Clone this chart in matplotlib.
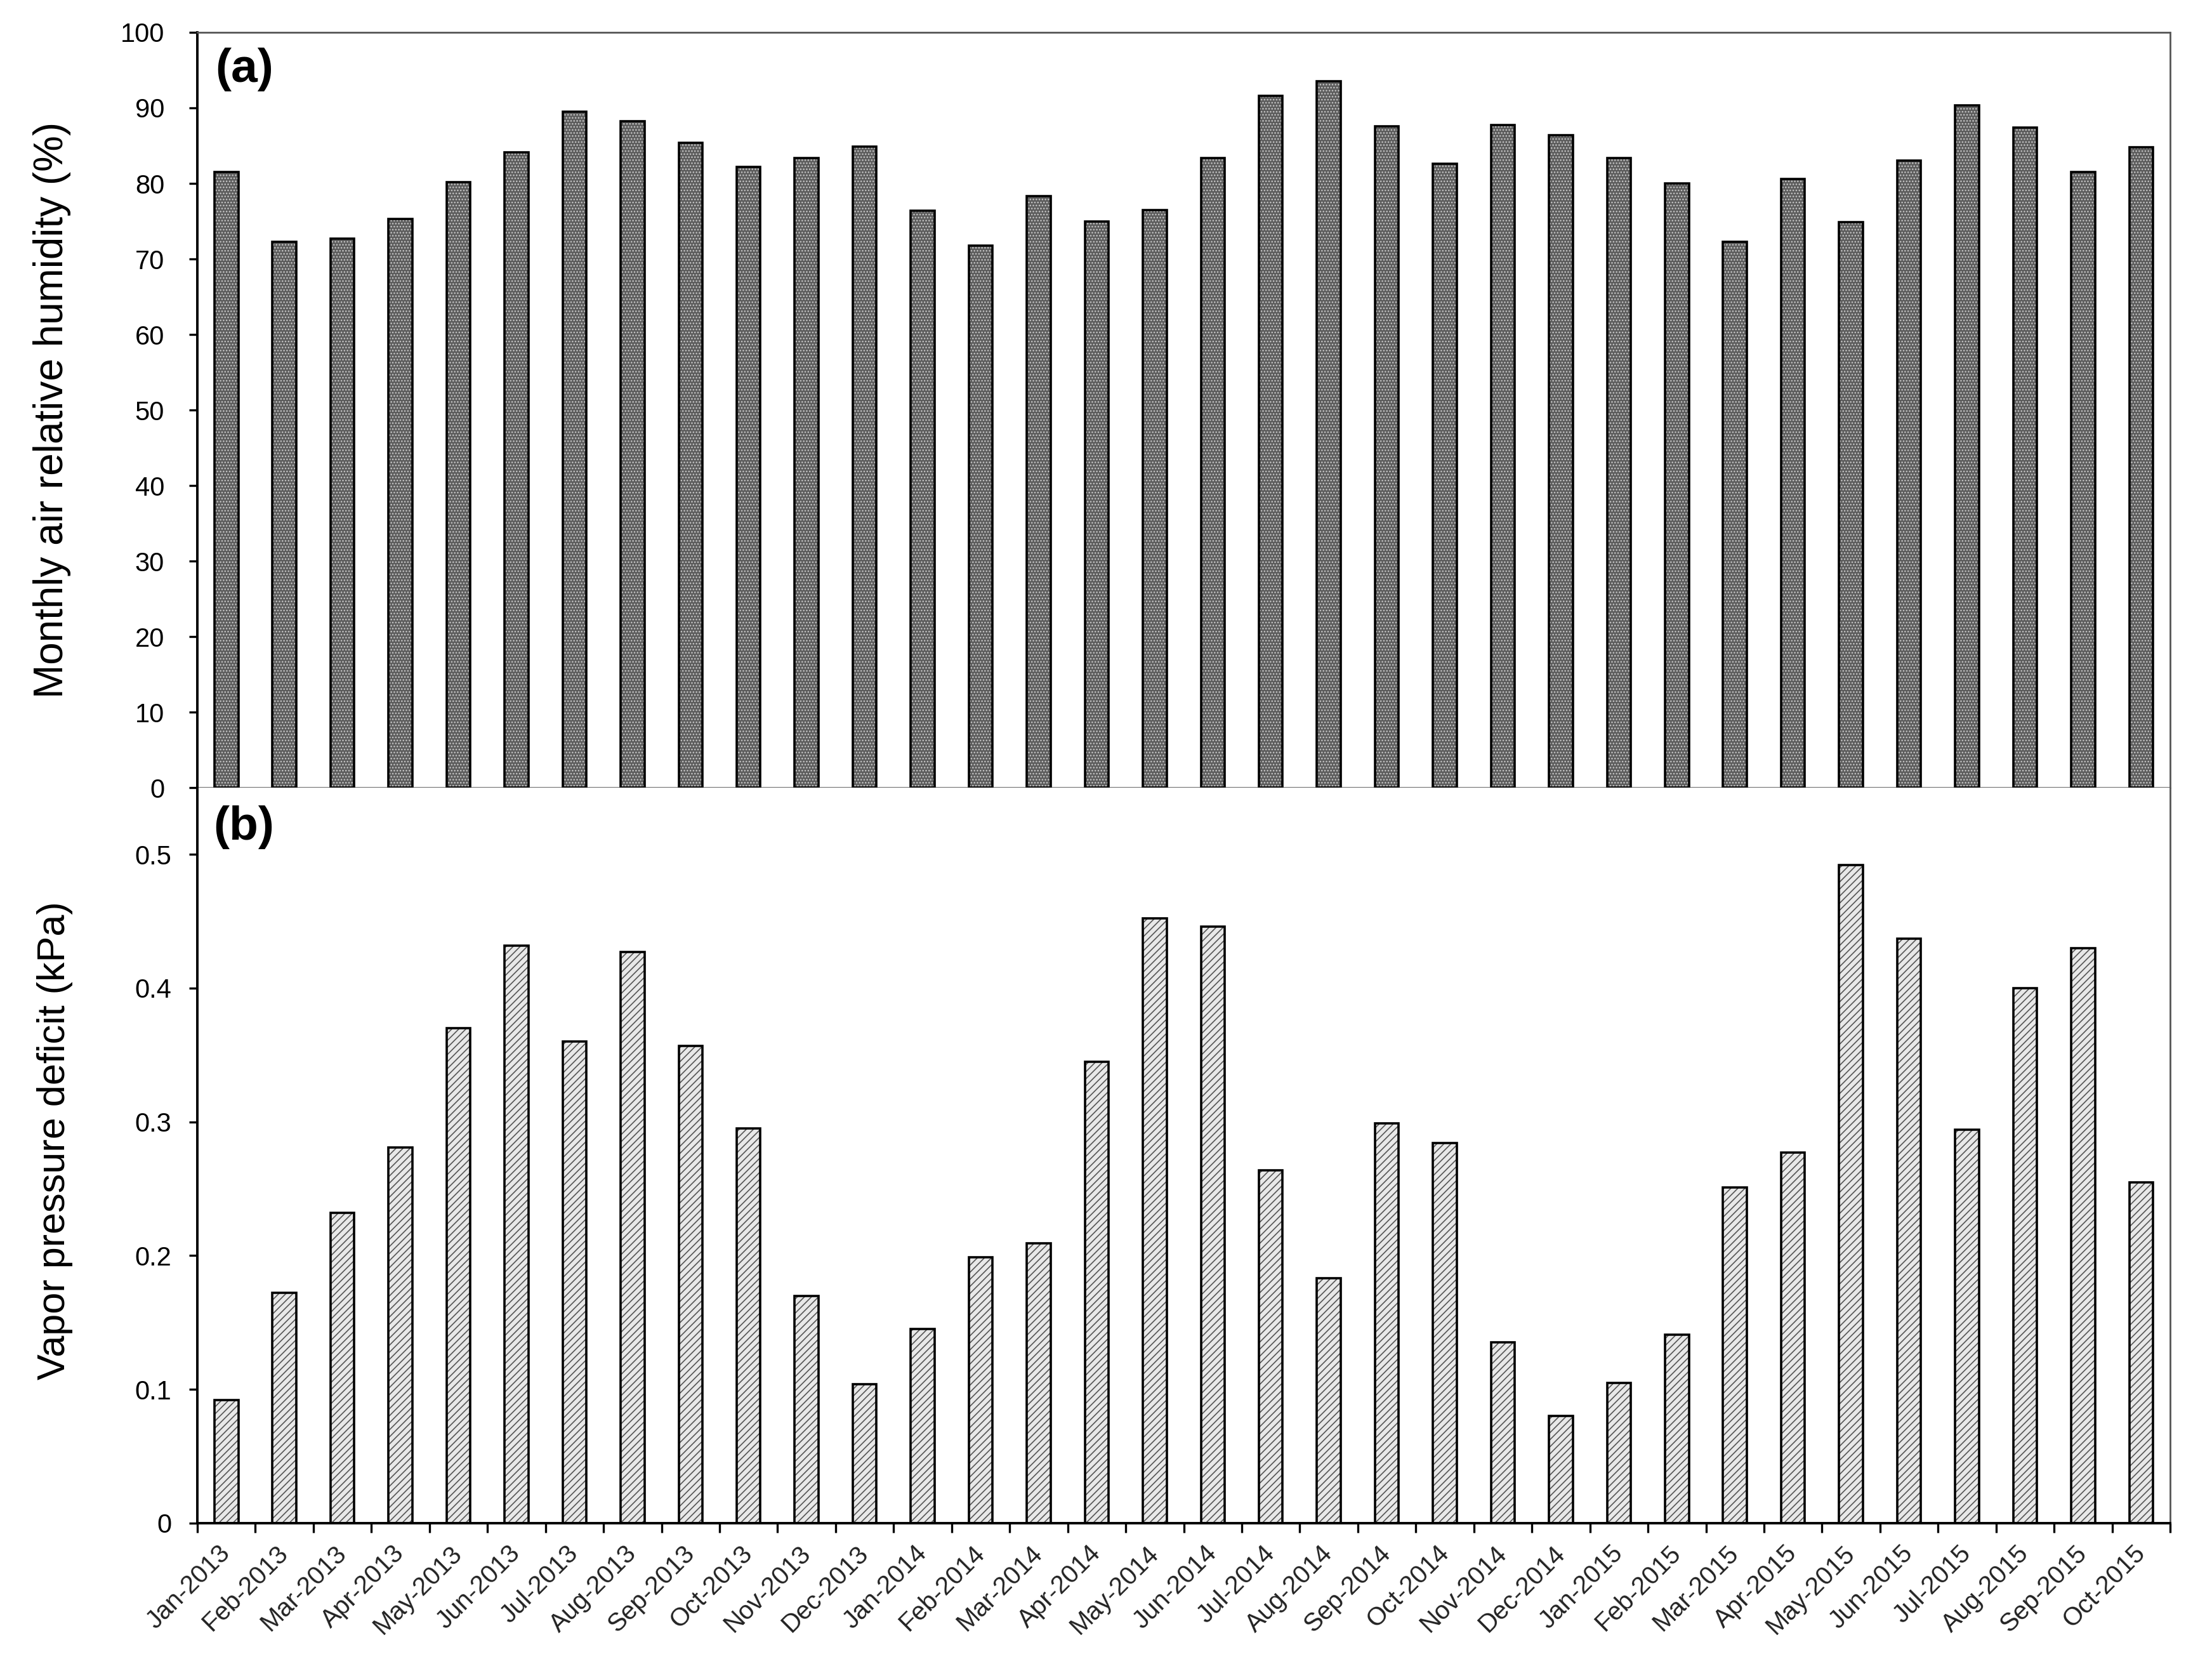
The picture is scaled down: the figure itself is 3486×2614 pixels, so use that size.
import numpy as np
import matplotlib
matplotlib.use('Agg')
import matplotlib.pyplot as plt
from matplotlib.ticker import FixedLocator, NullFormatter, FixedFormatter

months = ['Jan-2013', 'Feb-2013', 'Mar-2013', 'Apr-2013', 'May-2013', 'Jun-2013',
          'Jul-2013', 'Aug-2013', 'Sep-2013', 'Oct-2013', 'Nov-2013', 'Dec-2013',
          'Jan-2014', 'Feb-2014', 'Mar-2014', 'Apr-2014', 'May-2014', 'Jun-2014',
          'Jul-2014', 'Aug-2014', 'Sep-2014', 'Oct-2014', 'Nov-2014', 'Dec-2014',
          'Jan-2015', 'Feb-2015', 'Mar-2015', 'Apr-2015', 'May-2015', 'Jun-2015',
          'Jul-2015', 'Aug-2015', 'Sep-2015', 'Oct-2015']

humidity = [81.5, 72.3, 72.7, 75.3, 80.2, 84.1, 89.5, 88.2, 85.4, 82.2, 83.4, 84.9,
            76.4, 71.8, 78.3, 75.0, 76.5, 83.4, 91.6, 93.5, 87.6, 82.6, 87.7, 86.4,
            83.4, 80.0, 72.3, 80.6, 74.9, 83.0, 90.3, 87.4, 81.5, 84.8]

vpd = [0.092, 0.172, 0.232, 0.281, 0.370, 0.432, 0.360, 0.427, 0.357, 0.295, 0.170, 0.104,
       0.145, 0.199, 0.209, 0.345, 0.452, 0.446, 0.264, 0.183, 0.299, 0.284, 0.135, 0.080,
       0.105, 0.141, 0.251, 0.277, 0.492, 0.437, 0.294, 0.400, 0.430, 0.255]

hum_ticks = [0, 10, 20, 30, 40, 50, 60, 70, 80, 90, 100]
vpd_ticks = [0, 0.1, 0.2, 0.3, 0.4, 0.5]
vpd_tick_labels = ['0', '0.1', '0.2', '0.3', '0.4', '0.5']

plt.rcParams['font.family'] = ['Liberation Sans', 'DejaVu Sans']
plt.rcParams['hatch.linewidth'] = 0.6

fig = plt.figure(figsize=(17.435, 13.07), dpi=200)
ax1 = fig.add_axes([0.0892, 0.5252, 0.8916, 0.4553])
ax2 = fig.add_axes([0.0892, 0.0819, 0.8916, 0.4434])

x = np.arange(len(months))
w = 0.41

# top panel
ax1.bar(x, humidity, w, color='#5c5c5c', edgecolor='#c4c4c4', hatch='.......',
        linewidth=0, zorder=2)
ax1.bar(x, humidity, w, facecolor='none', edgecolor='black', linewidth=1.3, zorder=3)

# bottom panel
ax2.bar(x, vpd, w, color='#e8e8e8', edgecolor='#555555', hatch='//////',
        linewidth=0, zorder=2)
ax2.bar(x, vpd, w, facecolor='none', edgecolor='black', linewidth=1.3, zorder=3)

for ax in (ax1, ax2):
    ax.set_xlim(-0.5, len(months) - 0.5)
    ax.spines['left'].set_linewidth(1.4)
    for s in ('top', 'right'):
        ax.spines[s].set_linestyle((0, (1, 1)))
        ax.spines[s].set_linewidth(1.0)
        ax.spines[s].set_color('#555555')
    ax.tick_params(axis='y', direction='out', length=4.7, width=1.2, labelsize=15)

ax1.spines['bottom'].set_linestyle((0, (1, 1)))
ax1.spines['bottom'].set_linewidth(1.0)
ax1.spines['bottom'].set_color('#555555')
ax2.spines['top'].set_visible(False)
ax2.spines['bottom'].set_linewidth(1.4)

ax1.set_ylim(0, 100)
ax1.set_yticks(hum_ticks)
ax1.tick_params(axis='y', pad=14)
ax1.tick_params(axis='x', bottom=False, labelbottom=False)

ax2.set_ylim(0, 0.55)
ax2.set_yticks(vpd_ticks)
ax2.set_yticklabels(vpd_tick_labels)
ax2.tick_params(axis='y', pad=10)

ax2.xaxis.set_major_locator(FixedLocator(np.arange(-0.5, len(months), 1.0)))
ax2.xaxis.set_major_formatter(NullFormatter())
ax2.xaxis.set_minor_locator(FixedLocator(x))
ax2.xaxis.set_minor_formatter(FixedFormatter(months))
ax2.tick_params(axis='x', which='major', direction='out', length=5.4, width=1.2)
ax2.tick_params(axis='x', which='minor', length=0, labelsize=14.5, pad=15)
for lab in ax2.xaxis.get_minorticklabels():
    lab.set_rotation(45)
    lab.set_ha('right')
    lab.set_va('center')
    lab.set_rotation_mode('anchor')
    lab.set_color('#222222')

ax1.set_ylabel('Monthly air relative humidity (%)', fontsize=23)
ax1.yaxis.set_label_coords(-0.064, 0.5)
ax2.set_ylabel('Vapor pressure deficit (kPa)', fontsize=22)
ax2.yaxis.set_label_coords(-0.063, 0.52)

ax1.text(0.009, 0.98, '(a)', transform=ax1.transAxes, fontsize=27,
         fontweight='bold', ha='left', va='top')
ax2.text(0.008, 0.976, '(b)', transform=ax2.transAxes, fontsize=27,
         fontweight='bold', ha='left', va='top')

fig.savefig('out.png', dpi=200)
